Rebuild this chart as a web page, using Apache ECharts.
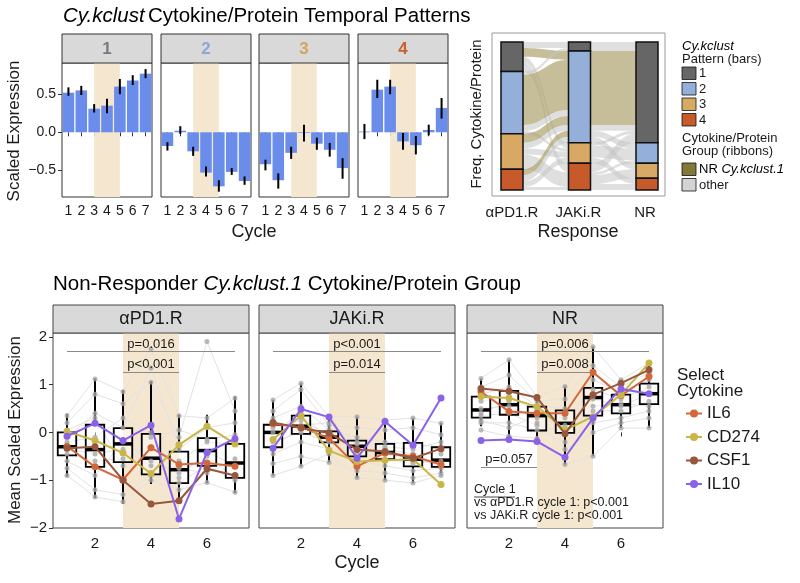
<!DOCTYPE html>
<html><head><meta charset="utf-8">
<script src="https://cdn.jsdelivr.net/npm/echarts@6/dist/echarts.min.js"></script>
<style>html,body{margin:0;padding:0;background:#fff}#c{width:800px;height:583px}</style>
</head><body><div id="c"></div>
<script>
// ---------------- DATA ----------------
const cycles = ['1','2','3','4','5','6','7'];
const patternLabels = ['1','2','3','4'];
// Top: Cy.kclust pattern mean scaled expression and error-bar limits
const pat1Mean = [0.52,0.55,0.31,0.35,0.60,0.68,0.77];
const pat1Low  = [0.48,0.49,0.26,0.25,0.50,0.62,0.71];
const pat1High = [0.59,0.61,0.37,0.44,0.70,0.75,0.83];
const pat2Mean = [-0.18,0.02,-0.25,-0.53,-0.71,-0.52,-0.64];
const pat2Low  = [-0.24,-0.02,-0.31,-0.58,-0.78,-0.56,-0.69];
const pat2High = [-0.13,0.08,-0.19,-0.45,-0.63,-0.47,-0.58];
const pat3Mean = [-0.42,-0.63,-0.27,-0.01,-0.15,-0.23,-0.47];
const pat3Low  = [-0.50,-0.74,-0.35,-0.12,-0.23,-0.32,-0.61];
const pat3High = [-0.36,-0.54,-0.19,0.10,-0.07,-0.14,-0.34];
const pat4Mean = [0.01,0.56,0.60,-0.12,-0.17,0.03,0.32];
const pat4Low  = [-0.09,0.45,0.50,-0.23,-0.29,-0.04,0.18];
const pat4High = [0.11,0.69,0.69,-0.01,-0.05,0.10,0.45];

// Alluvial: flows of cytokines (pattern in αPD1.R, JAKi.R, NR; ribbon group; count)
const responses = ['αPD1.R','JAKi.R','NR'];
const flowAPD1  = [1,1,1,1,2,2,2,2,3,3,3,3,3,4,4,4,4];
const flowJAKi  = [1,2,3,4,2,2,1,3,2,4,3,4,2,2,2,3,4];
const flowNR    = [1,1,2,3,1,2,1,1,1,1,2,4,3,1,1,4,2];
const flowGroup = ['other','NR1','other','other','NR1','other','other','other','NR1','other','other','other','other','NR1','other','other','other'];
const flowCount = [2,3,2,3,17,2,1,1,3,3,2,2,2,2,2,2,1];

// Bottom: box stats per cycle [min, q1, median, q3, max]
const boxAPD1 = [[-0.93,-0.48,-0.30,0.00,0.39],[-1.37,-0.72,-0.36,0.16,1.13],[-1.50,-0.62,-0.24,0.09,0.89],[-1.08,-0.88,-0.54,-0.03,1.07],[-1.47,-1.06,-0.78,-0.40,0.37],[-1.06,-0.70,-0.38,-0.12,0.37],[-1.27,-0.95,-0.64,-0.24,0.75]];
const boxJAKi = [[-0.90,-0.31,0.00,0.16,0.68],[-0.71,-0.03,0.13,0.35,1.03],[-0.63,-0.21,-0.10,0.02,0.33],[-0.95,-0.50,-0.29,-0.17,0.33],[-1.00,-0.56,-0.42,-0.24,0.26],[-1.06,-0.71,-0.56,-0.22,0.30],[-0.90,-0.72,-0.58,-0.31,0.19]];
const boxNR   = [[0.13,0.31,0.47,0.75,1.13],[-0.08,0.37,0.58,0.87,1.52],[-0.12,0.04,0.35,0.54,0.75],[-0.67,-0.01,0.19,0.46,0.96],[-0.50,0.35,0.73,0.93,1.79],[0.09,0.40,0.58,0.79,1.10],[0.09,0.59,0.81,1.02,1.45]];

// Highlighted cytokines
const cytokines = ['IL6','CD274','CSF1','IL10'];
const aPD1_IL6   = [-0.29,-0.72,-0.99,-0.32,-0.67,-0.64,-0.71];
const aPD1_CD274 = [0.02,-0.17,-0.43,-0.86,-0.26,0.13,-0.24];
const aPD1_CSF1  = [-0.33,-0.30,-1.00,-1.50,-1.43,-0.76,-0.90];
const aPD1_IL10  = [-0.08,0.19,-0.17,0.15,-1.81,-0.42,-0.13];
const jak_IL6    = [0.18,0.11,-0.12,-0.71,-0.43,-0.50,-0.67];
const jak_CD274  = [-0.15,0.35,-0.38,-0.61,-0.58,-0.56,-1.09];
const jak_CSF1   = [0.21,0.09,-0.01,-0.36,-0.40,-0.54,-0.34];
const jak_IL10   = [-0.33,0.49,0.32,-0.54,0.23,-0.27,0.72];
const nr_IL6     = [0.85,0.44,0.40,0.40,1.26,0.77,1.17];
const nr_CD274   = [0.75,0.72,0.54,0.05,0.33,0.79,1.45];
const nr_CSF1    = [0.92,0.86,0.73,-0.03,0.79,1.03,1.31];
const nr_IL10    = [-0.17,-0.15,-0.19,-0.52,0.30,0.91,0.81];

// Other cytokines of the group (grey spaghetti)
const aPD1_other = [
 [0.35,1.12,0.85,1.75,0.35,0.30,0.72],[0.20,0.80,0.60,1.05,-0.10,1.90,0.45],[-0.10,0.40,0.10,1.35,-0.35,0.10,0.20],
 [-0.45,-0.60,-0.55,-0.30,-0.60,-0.20,-0.25],[-0.60,-0.90,-0.20,-0.60,-0.85,-0.50,-0.95],[-0.75,-1.20,-1.30,-0.90,-1.05,-0.70,-1.00],
 [-0.90,-1.35,-1.45,-1.00,-1.20,-1.05,-1.25],[-0.20,-0.10,0.30,0.00,-0.95,-0.40,-0.70],[-0.35,-0.45,-0.35,-0.70,-0.75,-0.85,-0.55],
 [0.05,0.30,-0.70,-0.10,0.05,-0.15,-0.05]];
const jak_other = [
 [0.68,1.03,0.33,0.33,0.26,0.30,0.19],[0.45,0.90,0.15,0.10,0.05,0.10,-0.05],[0.30,0.55,0.05,-0.10,-0.20,-0.25,-0.30],
 [0.10,0.25,-0.05,-0.25,-0.35,-0.45,-0.45],[-0.20,0.00,-0.20,-0.45,-0.55,-0.65,-0.60],[-0.45,-0.20,-0.35,-0.60,-0.70,-0.80,-0.75],
 [-0.65,-0.50,-0.63,-0.80,-0.85,-0.95,-0.85],[-0.90,-0.71,-0.45,-0.95,-1.00,-1.06,-0.90],[0.00,0.40,-0.15,-0.35,-0.45,-0.55,-0.70],
 [-0.35,0.15,0.20,-0.20,-0.30,-0.35,-0.20]];
const nr_other = [
 [1.13,1.52,0.75,0.96,1.79,1.10,1.45],[0.95,1.20,0.65,0.70,1.40,0.95,1.25],[0.80,0.95,0.55,0.50,1.10,0.85,1.10],
 [0.65,0.75,0.45,0.30,0.90,0.70,0.95],[0.50,0.55,0.30,0.15,0.70,0.55,0.80],[0.35,0.40,0.15,0.00,0.45,0.45,0.65],
 [0.20,0.20,0.05,-0.20,0.20,0.30,0.45],[0.05,-0.08,-0.12,-0.67,-0.50,0.09,0.09],[0.40,0.65,0.20,-0.35,0.00,0.20,0.30],
 [0.25,0.10,0.35,0.40,0.55,0.60,0.55]];

// p-value annotations: [from cycle, to cycle, y, text]
const pvalAPD1 = [['1','7',1.69,'p=0.016'],['3','5',1.26,'p<0.001']];
const pvalJAKi = [['1','7',1.69,'p<0.001'],['3','5',1.26,'p=0.014']];
const pvalNR   = [['1','7',1.69,'p=0.006'],['3','5',1.26,'p=0.008'],['1','3',-0.73,'p=0.057']];

// ---------------- STYLE ----------------
const FONT = '"Liberation Sans", Arial, Helvetica, sans-serif';
const INK = '#1a1a1a';
const BAND = '#F5E7CF';
const patternColors = ['#666666','#94AFD9','#D7A965','#C65A2B'];
const stripColors = ['#7a7a7a','#8EA6D6','#D4A35E','#C8602F'];
const cytoColors = ['#D2673B','#C9B548','#98573C','#8A62E8'];
const minus = v => String(v).replace('-', '\u2212');

const chart = echarts.init(document.getElementById('c'));
const grid = [], xAxis = [], yAxis = [], series = [], graphic = [];

// ---- Top facets ----
const topLefts = [62,161,259,358];
const topMeans = [pat1Mean, pat2Mean, pat3Mean, pat4Mean];
const topLows = [pat1Low, pat2Low, pat3Low, pat4Low];
const topHighs = [pat1High, pat2High, pat3High, pat4High];
topLefts.forEach((L, i) => {
  grid.push({left: L, top: 63, width: 90, height: 134, show: true, borderColor: '#333', borderWidth: 1});
  xAxis.push({type: 'category', gridIndex: i, data: cycles, boundaryGap: true,
    axisLine: {show: false}, splitLine: {show: false},
    axisTick: {show: true, alignWithLabel: true, length: 4, lineStyle: {color: '#333'}},
    axisLabel: {fontSize: 14, color: INK, margin: 7, fontFamily: FONT}});
  yAxis.push({type: 'value', gridIndex: i, min: -0.85, max: 0.91,
    axisLine: {show: false}, splitLine: {show: false},
    axisTick: {show: i === 0, length: 4, customValues: [-0.5, 0, 0.5], lineStyle: {color: '#333'}},
    axisLabel: {show: i === 0, customValues: [-0.5, 0, 0.5], fontSize: 14, color: INK, margin: 6, fontFamily: FONT,
      formatter: v => minus(Number(v).toFixed(1))}});
  series.push({type: 'line', xAxisIndex: i, yAxisIndex: i, data: [], silent: true,
    markArea: {silent: true, itemStyle: {color: BAND}, data: [[{xAxis: '3'}, {xAxis: '5'}]]}});
  series.push({type: 'bar', xAxisIndex: i, yAxisIndex: i, data: topMeans[i], barCategoryGap: '10%',
    itemStyle: {color: '#6A8DEB'}, silent: true, z: 2});
  series.push({type: 'custom', xAxisIndex: i, yAxisIndex: i, silent: true, z: 3,
    data: topMeans[i].map((m, k) => [k, topLows[i][k], topHighs[i][k]]),
    encode: {x: 0, y: [1, 2]},
    renderItem: (params, api) => {
      const a = api.coord([api.value(0), api.value(1)]);
      const b = api.coord([api.value(0), api.value(2)]);
      return {type: 'line', shape: {x1: a[0], y1: a[1], x2: b[0], y2: b[1]}, style: {stroke: '#000', lineWidth: 2}};
    }});
  graphic.push({type: 'rect', shape: {x: L, y: 34, width: 90, height: 29}, style: {fill: '#D9D9D9', stroke: '#333', lineWidth: 1}, z: 10});
  graphic.push({type: 'text', x: L + 45, y: 49, z: 11, style: {text: patternLabels[i], align: 'center', verticalAlign: 'middle',
    font: 'bold 17px ' + FONT, fill: stripColors[i]}});
});

// ---- Alluvial ----
grid.push({left: 492, top: 33, width: 173, height: 163, show: true, borderColor: '#9a9a9a', borderWidth: 1});
xAxis.push({type: 'value', gridIndex: 4, min: 0.7, max: 3.3, axisLine: {show: false}, splitLine: {show: false},
  axisTick: {show: false}, axisLabel: {customValues: [1, 2, 3], formatter: v => responses[Math.round(v) - 1],
  fontSize: 15, color: INK, margin: 9, fontFamily: FONT}});
yAxis.push({type: 'value', gridIndex: 4, min: 0, max: 1, show: false});
const nodes = [];
['A', 'J', 'N'].forEach(col => patternLabels.forEach((p, k) => nodes.push({name: col + p,
  itemStyle: {color: patternColors[k], borderColor: '#111', borderWidth: 1.5}})));
function aggregate(fromArr, fromCol, toArr, toCol) {
  const map = new Map(), order = [];
  flowCount.forEach((n, f) => {
    const key = fromCol + fromArr[f] + '>' + toCol + toArr[f] + '|' + flowGroup[f];
    if (!map.has(key)) { map.set(key, {source: fromCol + fromArr[f], target: toCol + toArr[f], value: 0, group: flowGroup[f]}); order.push(key); }
    map.get(key).value += n;
  });
  return order.map(k => map.get(k));
}
const links = aggregate(flowAPD1, 'A', flowJAKi, 'J').concat(aggregate(flowJAKi, 'J', flowNR, 'N')).map(l => ({
  source: l.source, target: l.target, value: l.value,
  lineStyle: l.group === 'NR1' ? {color: '#B0A572', opacity: 0.72, curveness: 0.5} : {color: '#C4C4C4', opacity: 0.55, curveness: 0.5}}));
series.push({type: 'sankey', left: 501, right: 142, top: 42, bottom: 393, nodeWidth: 22, nodeGap: 0,
  layoutIterations: 0, draggable: false, silent: true, label: {show: false}, emphasis: {disabled: true},
  data: nodes, links: links, z: 3});

// ---- Bottom facets ----
const botLefts = [53, 259, 467];
const botBoxes = [boxAPD1, boxJAKi, boxNR];
const botHigh = [[aPD1_IL6, aPD1_CD274, aPD1_CSF1, aPD1_IL10], [jak_IL6, jak_CD274, jak_CSF1, jak_IL10], [nr_IL6, nr_CD274, nr_CSF1, nr_IL10]];
const botOther = [aPD1_other, jak_other, nr_other];
const botPvals = [pvalAPD1, pvalJAKi, pvalNR];
botLefts.forEach((L, j) => {
  const gi = 5 + j;
  grid.push({left: L, top: 333, width: 196, height: 195, show: true, borderColor: '#444', borderWidth: 1});
  xAxis.push({type: 'category', gridIndex: gi, data: cycles, boundaryGap: true,
    axisLine: {show: false}, splitLine: {show: false},
    axisTick: {show: true, alignWithLabel: true, length: 4, interval: (idx) => idx % 2 === 1, lineStyle: {color: '#333'}},
    axisLabel: {interval: (idx) => idx % 2 === 1, fontSize: 15, color: INK, margin: 8, fontFamily: FONT}});
  yAxis.push({type: 'value', gridIndex: gi, min: -2, max: 2.08,
    axisLine: {show: false}, splitLine: {show: false},
    axisTick: {show: j === 0, length: 4, customValues: [-2, -1, 0, 1, 2], lineStyle: {color: '#333'}},
    axisLabel: {show: j === 0, customValues: [-2, -1, 0, 1, 2], fontSize: 15, color: INK, margin: 6, fontFamily: FONT,
      formatter: v => minus(Math.round(v))}});
  series.push({type: 'line', xAxisIndex: gi, yAxisIndex: gi, data: [], silent: true,
    markArea: {silent: true, itemStyle: {color: BAND}, data: [[{xAxis: '3'}, {xAxis: '5'}]]},
    markLine: {silent: true, symbol: ['none', 'none'], lineStyle: {color: '#8a8a8a', width: 1, type: 'solid'},
      label: {show: true, position: 'insideMiddleTop', distance: 1, formatter: '{b}', fontSize: 13, color: INK, fontFamily: FONT},
      data: botPvals[j].map(p => [{name: p[3], coord: [p[0], p[2]]}, {coord: [p[1], p[2]]}])}});
  botOther[j].forEach(arr => series.push({type: 'line', xAxisIndex: gi, yAxisIndex: gi, data: arr, symbol: 'none',
    silent: true, z: 2, lineStyle: {color: '#E3E3E3', width: 1}}));
  series.push({type: 'custom', xAxisIndex: gi, yAxisIndex: gi, silent: true, z: 3,
    data: botBoxes[j].map((b, k) => [k].concat(b)), encode: {x: 0, y: [1, 2, 3, 4, 5]},
    renderItem: (params, api) => {
      const x = api.value(0);
      const pMin = api.coord([x, api.value(1)]), pQ1 = api.coord([x, api.value(2)]), pMd = api.coord([x, api.value(3)]);
      const pQ3 = api.coord([x, api.value(4)]), pMax = api.coord([x, api.value(5)]);
      const w = api.size([1, 0])[0] * 0.66, cx = pMd[0];
      return {type: 'group', children: [
        {type: 'line', shape: {x1: cx, y1: pMax[1], x2: cx, y2: pQ3[1]}, style: {stroke: '#000', lineWidth: 2}},
        {type: 'line', shape: {x1: cx, y1: pQ1[1], x2: cx, y2: pMin[1]}, style: {stroke: '#000', lineWidth: 2}},
        {type: 'rect', shape: {x: cx - w / 2, y: pQ3[1], width: w, height: pQ1[1] - pQ3[1]}, style: {fill: 'rgba(255,255,255,0.45)', stroke: '#000', lineWidth: 1.8}},
        {type: 'line', shape: {x1: cx - w / 2, y1: pMd[1], x2: cx + w / 2, y2: pMd[1]}, style: {stroke: '#000', lineWidth: 3.5}}
      ]};
    }});
  const pts = [];
  botOther[j].forEach(arr => arr.forEach((v, k) => pts.push([k, v])));
  series.push({type: 'scatter', xAxisIndex: gi, yAxisIndex: gi, data: pts, symbolSize: 5, silent: true, z: 4,
    itemStyle: {color: '#A8A8A8'}});
  cytokines.forEach((name, c) => series.push({type: 'line', name: name, xAxisIndex: gi, yAxisIndex: gi, data: botHigh[j][c],
    symbol: 'circle', symbolSize: 7, silent: true, z: 6 + c,
    itemStyle: {color: cytoColors[c]}, lineStyle: {color: cytoColors[c], width: 2}}));
  graphic.push({type: 'rect', shape: {x: L, y: 305, width: 196, height: 28}, style: {fill: '#D9D9D9', stroke: '#444', lineWidth: 1}, z: 10});
  graphic.push({type: 'text', x: L + 98, y: 319.5, z: 11, style: {text: responses[j], align: 'center', verticalAlign: 'middle',
    font: '18px ' + FONT, fill: INK}});
});

// ---- Titles, axis names, legends (text) ----
const txt = (text, x, y, size, opts) => ({type: 'text', x: x, y: y, z: 12,
  style: Object.assign({text: text, font: size + 'px ' + FONT, fill: INK, align: 'left', verticalAlign: 'middle'}, opts || {})});
graphic.push({type: 'text', x: 63, y: 16, z: 12, style: {text: '{i|Cy.kclust} {n|Cytokine/Protein Temporal Patterns}',
  verticalAlign: 'middle', rich: {i: {fontStyle: 'italic', fontSize: 20.5, fontFamily: FONT, color: INK},
  n: {fontSize: 20.5, fontFamily: FONT, color: INK}}}});
graphic.push({type: 'text', x: 53, y: 284, z: 12, style: {text: '{n|Non-Responder }{i|Cy.kclust.1}{n| Cytokine/Protein Group}',
  verticalAlign: 'middle', rich: {i: {fontStyle: 'italic', fontSize: 20.5, fontFamily: FONT, color: INK},
  n: {fontSize: 20.5, fontFamily: FONT, color: INK}}}});
graphic.push(Object.assign(txt('Scaled Expression', 0, 0, 17, {align: 'center'}), {x: 14, y: 131, rotation: Math.PI / 2}));
graphic.push(txt('Cycle', 254, 232, 18, {align: 'center'}));
graphic.push(Object.assign(txt('Freq. Cytokine/Protein', 0, 0, 15, {align: 'center'}), {x: 477, y: 114, rotation: Math.PI / 2}));
graphic.push(txt('Response', 578, 232, 18, {align: 'center'}));
graphic.push(Object.assign(txt('Mean Scaled Expression', 0, 0, 17, {align: 'center'}), {x: 15, y: 430, rotation: Math.PI / 2}));
graphic.push(txt('Cycle', 357, 563, 18, {align: 'center'}));

// alluvial legend
graphic.push({type: 'text', x: 682, y: 46, z: 12, style: {text: '{i|Cy.kclust}', verticalAlign: 'middle',
  rich: {i: {fontStyle: 'italic', fontSize: 13, fontFamily: FONT, color: INK}}}});
graphic.push(txt('Pattern (bars)', 682, 59, 13));
patternLabels.forEach((p, k) => {
  graphic.push({type: 'rect', z: 12, shape: {x: 682, y: 67 + k * 15.5, width: 14, height: 12.5}, style: {fill: patternColors[k], stroke: '#111', lineWidth: 0.8}});
  graphic.push(txt(p, 699, 73.5 + k * 15.5, 13));
});
graphic.push(txt('Cytokine/Protein', 682, 138, 13));
graphic.push(txt('Group (ribbons)', 682, 151, 13));
graphic.push({type: 'rect', z: 12, shape: {x: 682, y: 163, width: 14, height: 12.5}, style: {fill: '#827938', stroke: '#111', lineWidth: 0.8}});
graphic.push({type: 'rect', z: 12, shape: {x: 682, y: 178.5, width: 14, height: 12.5}, style: {fill: '#D3D3D3', stroke: '#111', lineWidth: 0.8}});
graphic.push({type: 'text', x: 699, y: 169.5, z: 12, style: {text: '{n|NR }{i|Cy.kclust.1}', verticalAlign: 'middle',
  rich: {n: {fontSize: 13, fontFamily: FONT, color: INK}, i: {fontStyle: 'italic', fontSize: 13, fontFamily: FONT, color: INK}}}});
graphic.push(txt('other', 699, 185, 13));

// cytokine legend title
graphic.push(txt('Select', 677, 375, 17));
graphic.push(txt('Cytokine', 677, 391, 17));

// NR note
graphic.push(txt('Cycle 1', 474, 490, 12.5));
graphic.push({type: 'line', z: 12, shape: {x1: 474, y1: 497, x2: 515, y2: 497}, style: {stroke: INK, lineWidth: 0.8}});
graphic.push(txt('vs αPD1.R cycle 1: p<0.001', 474, 503, 12.5));
graphic.push(txt('vs JAKi.R cycle 1: p<0.001', 474, 516, 12.5));

chart.setOption({
  animation: false,
  backgroundColor: '#fff',
  textStyle: {fontFamily: FONT},
  grid: grid, xAxis: xAxis, yAxis: yAxis, series: series, graphic: graphic,
  legend: {left: 680, top: 400, orient: 'vertical', itemGap: 6.5, itemWidth: 16, itemHeight: 10, selectedMode: false,
    textStyle: {fontSize: 17, color: INK, fontFamily: FONT}, data: cytokines}
});
</script></body></html>
